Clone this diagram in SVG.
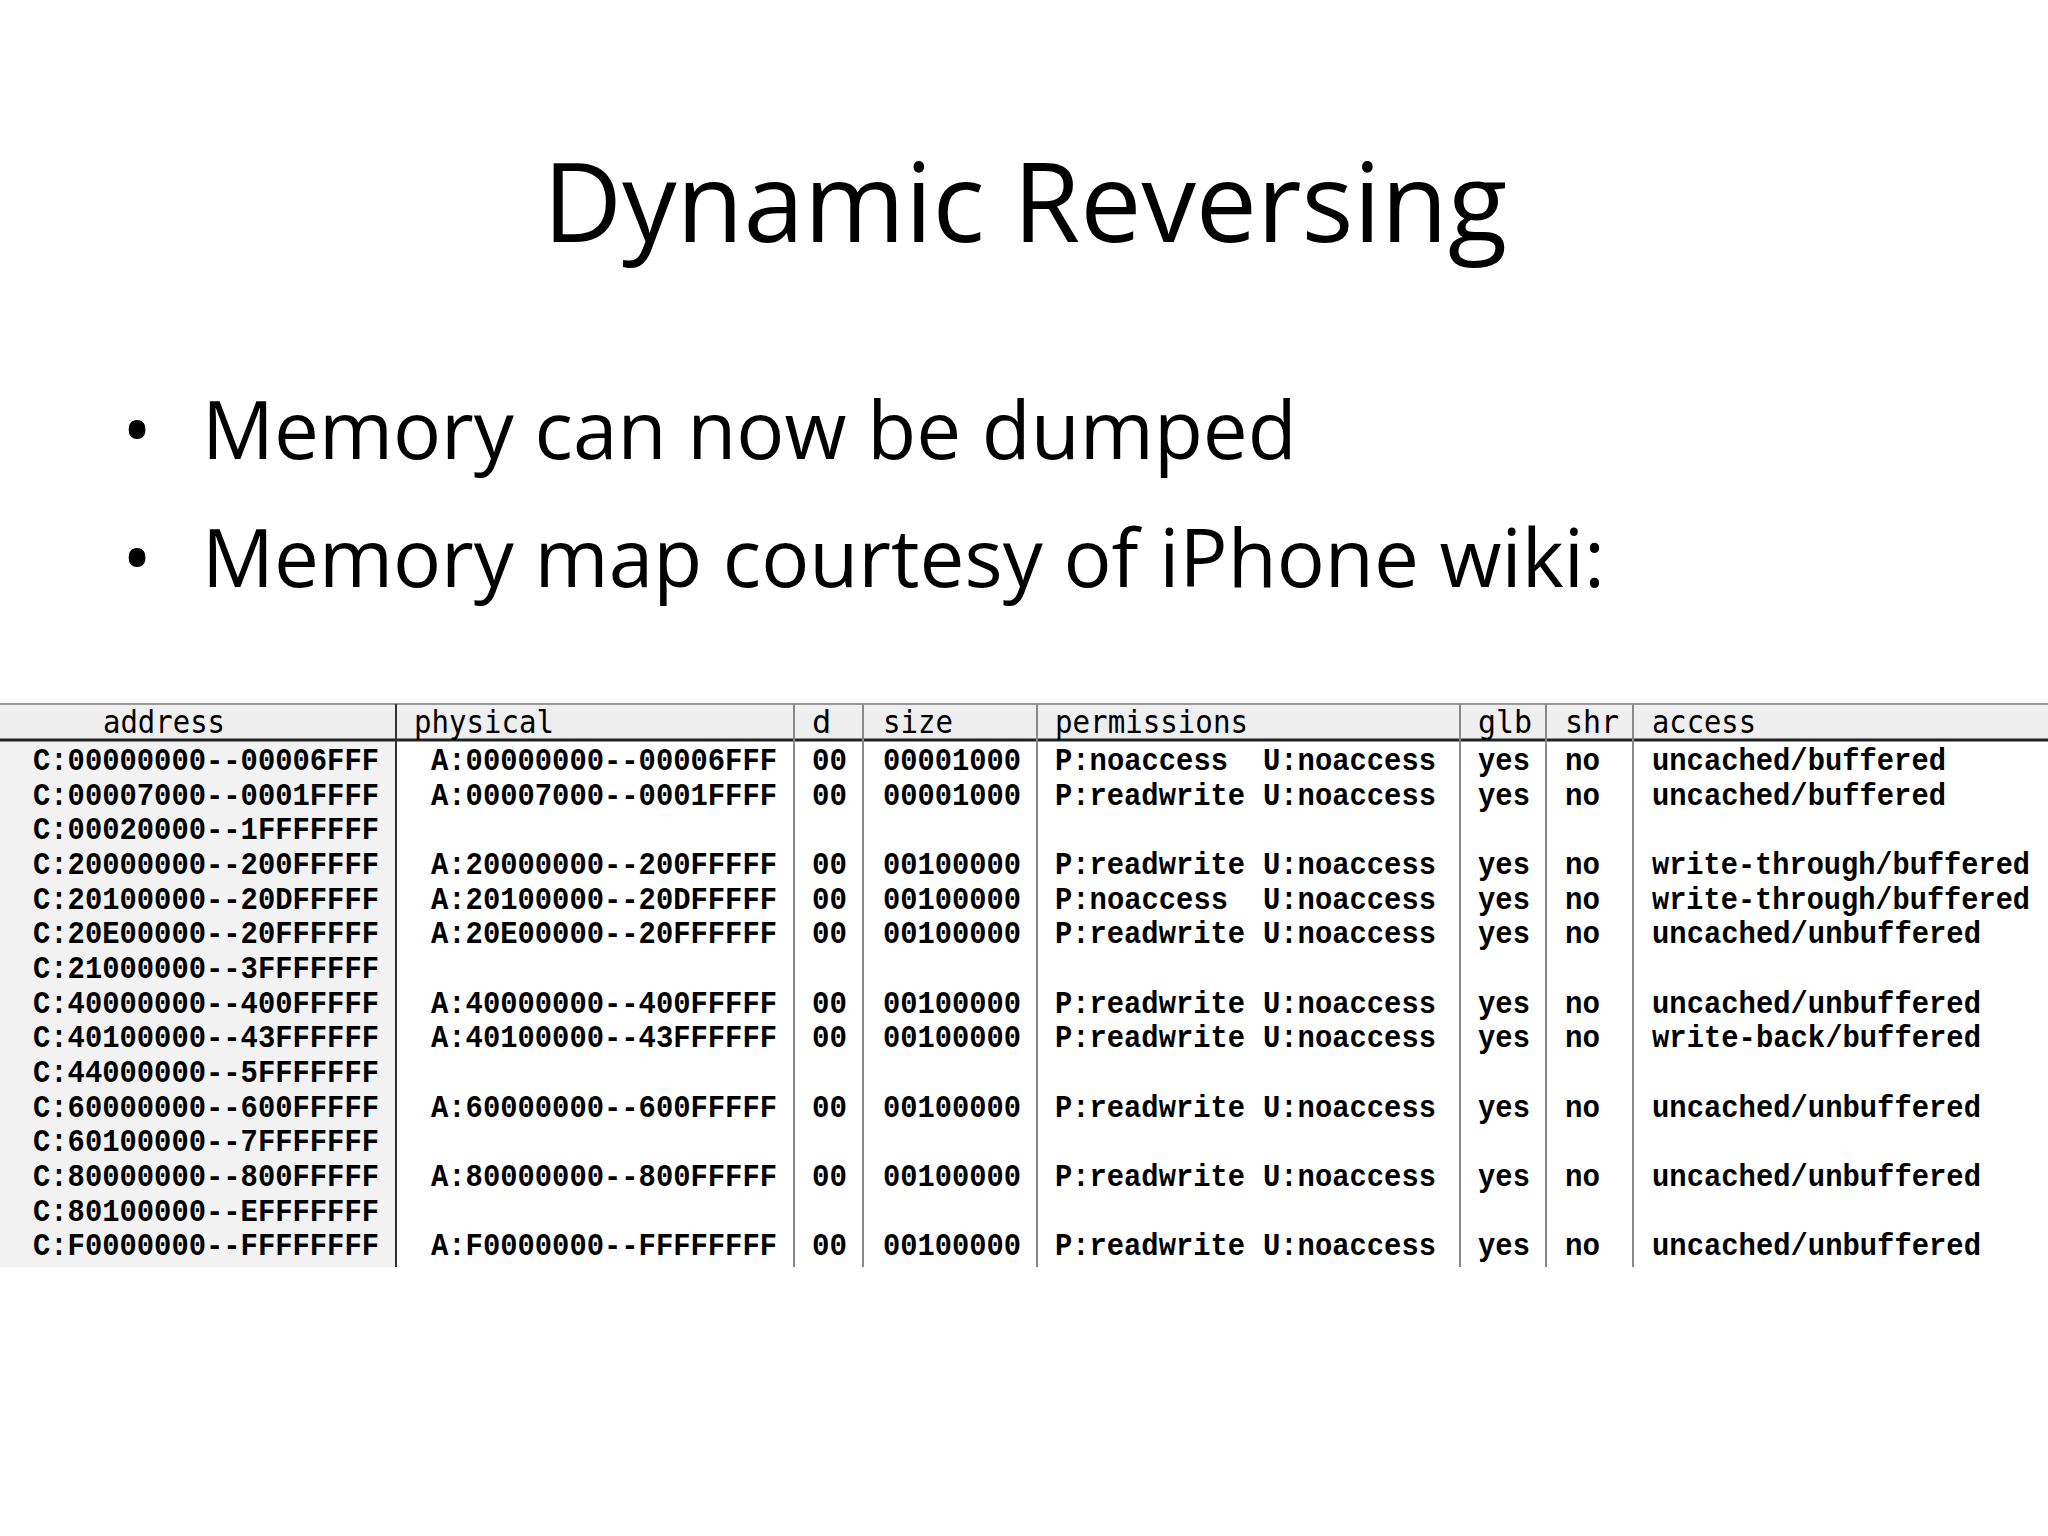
<svg xmlns="http://www.w3.org/2000/svg" width="2048" height="1536" viewBox="0 0 2048 1536">
<style>
.t{font-family:"Open Sans","Liberation Sans",sans-serif;fill:#000}
.m{font-family:"Liberation Mono",monospace;font-size:32px;fill:#000;font-weight:bold}
.h{font-family:"DejaVu Sans Mono",monospace;font-size:32px;fill:#000}
.v{stroke:#888;stroke-width:2}
</style>
<rect width="2048" height="1536" fill="#fff"/>
<g id="title"><text class="t" x="1025" y="242" font-size="109" text-anchor="middle">Dynamic Reversing</text></g>
<g id="bullets">
<text class="t" x="122" y="459" font-size="80">•</text>
<text class="t" x="202" y="459" font-size="80">Memory can now be dumped</text>
<text class="t" x="122" y="587" font-size="80">•</text>
<text class="t" x="202" y="587" font-size="80">Memory map courtesy of iPhone wiki:</text>
</g>
<g id="table">
<rect x="0" y="704" width="2048" height="36" fill="#eeeeee"/>
<rect x="0" y="740" width="396" height="527" fill="#f2f2f2"/>
<line x1="0" y1="704" x2="2048" y2="704" stroke="#999" stroke-width="2"/>
<line x1="0" y1="740" x2="2048" y2="740" stroke="#222" stroke-width="3"/>
<g class="v">
<line x1="396" y1="704" x2="396" y2="1267" stroke="#333"/>
<line x1="794" y1="704" x2="794" y2="1267"/>
<line x1="863" y1="704" x2="863" y2="1267"/>
<line x1="1037" y1="704" x2="1037" y2="1267"/>
<line x1="1460" y1="704" x2="1460" y2="1267"/>
<line x1="1546" y1="704" x2="1546" y2="1267"/>
<line x1="1633" y1="704" x2="1633" y2="1267"/>
</g>
<g class="h">
<text x="103" y="733" textLength="122" lengthAdjust="spacingAndGlyphs">address</text>
<text x="414" y="733" textLength="140" lengthAdjust="spacingAndGlyphs">physical</text>
<text x="812" y="733">d</text>
<text x="883" y="733" textLength="70" lengthAdjust="spacingAndGlyphs">size</text>
<text x="1055" y="733" textLength="193" lengthAdjust="spacingAndGlyphs">permissions</text>
<text x="1478" y="733" textLength="54" lengthAdjust="spacingAndGlyphs">glb</text>
<text x="1565" y="733" textLength="54" lengthAdjust="spacingAndGlyphs">shr</text>
<text x="1652" y="733" textLength="104" lengthAdjust="spacingAndGlyphs">access</text>
</g>
<g class="m">
<g transform="translate(0,770)"><text x="33" textLength="346" lengthAdjust="spacingAndGlyphs">C:00000000--00006FFF</text><text x="431" textLength="346" lengthAdjust="spacingAndGlyphs">A:00000000--00006FFF</text><text x="812" textLength="35" lengthAdjust="spacingAndGlyphs">00</text><text x="883" textLength="138" lengthAdjust="spacingAndGlyphs">00001000</text><text x="1055" textLength="173" lengthAdjust="spacingAndGlyphs">P:noaccess</text><text x="1263" textLength="173" lengthAdjust="spacingAndGlyphs">U:noaccess</text><text x="1478" textLength="52" lengthAdjust="spacingAndGlyphs">yes</text><text x="1565" textLength="35" lengthAdjust="spacingAndGlyphs">no</text><text x="1652" textLength="294" lengthAdjust="spacingAndGlyphs">uncached/buffered</text></g>
<g transform="translate(0,804.7)"><text x="33" textLength="346" lengthAdjust="spacingAndGlyphs">C:00007000--0001FFFF</text><text x="431" textLength="346" lengthAdjust="spacingAndGlyphs">A:00007000--0001FFFF</text><text x="812" textLength="35" lengthAdjust="spacingAndGlyphs">00</text><text x="883" textLength="138" lengthAdjust="spacingAndGlyphs">00001000</text><text x="1055" textLength="190" lengthAdjust="spacingAndGlyphs">P:readwrite</text><text x="1263" textLength="173" lengthAdjust="spacingAndGlyphs">U:noaccess</text><text x="1478" textLength="52" lengthAdjust="spacingAndGlyphs">yes</text><text x="1565" textLength="35" lengthAdjust="spacingAndGlyphs">no</text><text x="1652" textLength="294" lengthAdjust="spacingAndGlyphs">uncached/buffered</text></g>
<g transform="translate(0,839.3)"><text x="33" textLength="346" lengthAdjust="spacingAndGlyphs">C:00020000--1FFFFFFF</text></g>
<g transform="translate(0,874)"><text x="33" textLength="346" lengthAdjust="spacingAndGlyphs">C:20000000--200FFFFF</text><text x="431" textLength="346" lengthAdjust="spacingAndGlyphs">A:20000000--200FFFFF</text><text x="812" textLength="35" lengthAdjust="spacingAndGlyphs">00</text><text x="883" textLength="138" lengthAdjust="spacingAndGlyphs">00100000</text><text x="1055" textLength="190" lengthAdjust="spacingAndGlyphs">P:readwrite</text><text x="1263" textLength="173" lengthAdjust="spacingAndGlyphs">U:noaccess</text><text x="1478" textLength="52" lengthAdjust="spacingAndGlyphs">yes</text><text x="1565" textLength="35" lengthAdjust="spacingAndGlyphs">no</text><text x="1652" textLength="378" lengthAdjust="spacingAndGlyphs">write-through/buffered</text></g>
<g transform="translate(0,908.7)"><text x="33" textLength="346" lengthAdjust="spacingAndGlyphs">C:20100000--20DFFFFF</text><text x="431" textLength="346" lengthAdjust="spacingAndGlyphs">A:20100000--20DFFFFF</text><text x="812" textLength="35" lengthAdjust="spacingAndGlyphs">00</text><text x="883" textLength="138" lengthAdjust="spacingAndGlyphs">00100000</text><text x="1055" textLength="173" lengthAdjust="spacingAndGlyphs">P:noaccess</text><text x="1263" textLength="173" lengthAdjust="spacingAndGlyphs">U:noaccess</text><text x="1478" textLength="52" lengthAdjust="spacingAndGlyphs">yes</text><text x="1565" textLength="35" lengthAdjust="spacingAndGlyphs">no</text><text x="1652" textLength="378" lengthAdjust="spacingAndGlyphs">write-through/buffered</text></g>
<g transform="translate(0,943.3)"><text x="33" textLength="346" lengthAdjust="spacingAndGlyphs">C:20E00000--20FFFFFF</text><text x="431" textLength="346" lengthAdjust="spacingAndGlyphs">A:20E00000--20FFFFFF</text><text x="812" textLength="35" lengthAdjust="spacingAndGlyphs">00</text><text x="883" textLength="138" lengthAdjust="spacingAndGlyphs">00100000</text><text x="1055" textLength="190" lengthAdjust="spacingAndGlyphs">P:readwrite</text><text x="1263" textLength="173" lengthAdjust="spacingAndGlyphs">U:noaccess</text><text x="1478" textLength="52" lengthAdjust="spacingAndGlyphs">yes</text><text x="1565" textLength="35" lengthAdjust="spacingAndGlyphs">no</text><text x="1652" textLength="329" lengthAdjust="spacingAndGlyphs">uncached/unbuffered</text></g>
<g transform="translate(0,978)"><text x="33" textLength="346" lengthAdjust="spacingAndGlyphs">C:21000000--3FFFFFFF</text></g>
<g transform="translate(0,1012.7)"><text x="33" textLength="346" lengthAdjust="spacingAndGlyphs">C:40000000--400FFFFF</text><text x="431" textLength="346" lengthAdjust="spacingAndGlyphs">A:40000000--400FFFFF</text><text x="812" textLength="35" lengthAdjust="spacingAndGlyphs">00</text><text x="883" textLength="138" lengthAdjust="spacingAndGlyphs">00100000</text><text x="1055" textLength="190" lengthAdjust="spacingAndGlyphs">P:readwrite</text><text x="1263" textLength="173" lengthAdjust="spacingAndGlyphs">U:noaccess</text><text x="1478" textLength="52" lengthAdjust="spacingAndGlyphs">yes</text><text x="1565" textLength="35" lengthAdjust="spacingAndGlyphs">no</text><text x="1652" textLength="329" lengthAdjust="spacingAndGlyphs">uncached/unbuffered</text></g>
<g transform="translate(0,1047.3)"><text x="33" textLength="346" lengthAdjust="spacingAndGlyphs">C:40100000--43FFFFFF</text><text x="431" textLength="346" lengthAdjust="spacingAndGlyphs">A:40100000--43FFFFFF</text><text x="812" textLength="35" lengthAdjust="spacingAndGlyphs">00</text><text x="883" textLength="138" lengthAdjust="spacingAndGlyphs">00100000</text><text x="1055" textLength="190" lengthAdjust="spacingAndGlyphs">P:readwrite</text><text x="1263" textLength="173" lengthAdjust="spacingAndGlyphs">U:noaccess</text><text x="1478" textLength="52" lengthAdjust="spacingAndGlyphs">yes</text><text x="1565" textLength="35" lengthAdjust="spacingAndGlyphs">no</text><text x="1652" textLength="329" lengthAdjust="spacingAndGlyphs">write-back/buffered</text></g>
<g transform="translate(0,1082)"><text x="33" textLength="346" lengthAdjust="spacingAndGlyphs">C:44000000--5FFFFFFF</text></g>
<g transform="translate(0,1116.7)"><text x="33" textLength="346" lengthAdjust="spacingAndGlyphs">C:60000000--600FFFFF</text><text x="431" textLength="346" lengthAdjust="spacingAndGlyphs">A:60000000--600FFFFF</text><text x="812" textLength="35" lengthAdjust="spacingAndGlyphs">00</text><text x="883" textLength="138" lengthAdjust="spacingAndGlyphs">00100000</text><text x="1055" textLength="190" lengthAdjust="spacingAndGlyphs">P:readwrite</text><text x="1263" textLength="173" lengthAdjust="spacingAndGlyphs">U:noaccess</text><text x="1478" textLength="52" lengthAdjust="spacingAndGlyphs">yes</text><text x="1565" textLength="35" lengthAdjust="spacingAndGlyphs">no</text><text x="1652" textLength="329" lengthAdjust="spacingAndGlyphs">uncached/unbuffered</text></g>
<g transform="translate(0,1151.3)"><text x="33" textLength="346" lengthAdjust="spacingAndGlyphs">C:60100000--7FFFFFFF</text></g>
<g transform="translate(0,1186)"><text x="33" textLength="346" lengthAdjust="spacingAndGlyphs">C:80000000--800FFFFF</text><text x="431" textLength="346" lengthAdjust="spacingAndGlyphs">A:80000000--800FFFFF</text><text x="812" textLength="35" lengthAdjust="spacingAndGlyphs">00</text><text x="883" textLength="138" lengthAdjust="spacingAndGlyphs">00100000</text><text x="1055" textLength="190" lengthAdjust="spacingAndGlyphs">P:readwrite</text><text x="1263" textLength="173" lengthAdjust="spacingAndGlyphs">U:noaccess</text><text x="1478" textLength="52" lengthAdjust="spacingAndGlyphs">yes</text><text x="1565" textLength="35" lengthAdjust="spacingAndGlyphs">no</text><text x="1652" textLength="329" lengthAdjust="spacingAndGlyphs">uncached/unbuffered</text></g>
<g transform="translate(0,1220.7)"><text x="33" textLength="346" lengthAdjust="spacingAndGlyphs">C:80100000--EFFFFFFF</text></g>
<g transform="translate(0,1255.3)"><text x="33" textLength="346" lengthAdjust="spacingAndGlyphs">C:F0000000--FFFFFFFF</text><text x="431" textLength="346" lengthAdjust="spacingAndGlyphs">A:F0000000--FFFFFFFF</text><text x="812" textLength="35" lengthAdjust="spacingAndGlyphs">00</text><text x="883" textLength="138" lengthAdjust="spacingAndGlyphs">00100000</text><text x="1055" textLength="190" lengthAdjust="spacingAndGlyphs">P:readwrite</text><text x="1263" textLength="173" lengthAdjust="spacingAndGlyphs">U:noaccess</text><text x="1478" textLength="52" lengthAdjust="spacingAndGlyphs">yes</text><text x="1565" textLength="35" lengthAdjust="spacingAndGlyphs">no</text><text x="1652" textLength="329" lengthAdjust="spacingAndGlyphs">uncached/unbuffered</text></g>
</g>
</g>
</svg>
